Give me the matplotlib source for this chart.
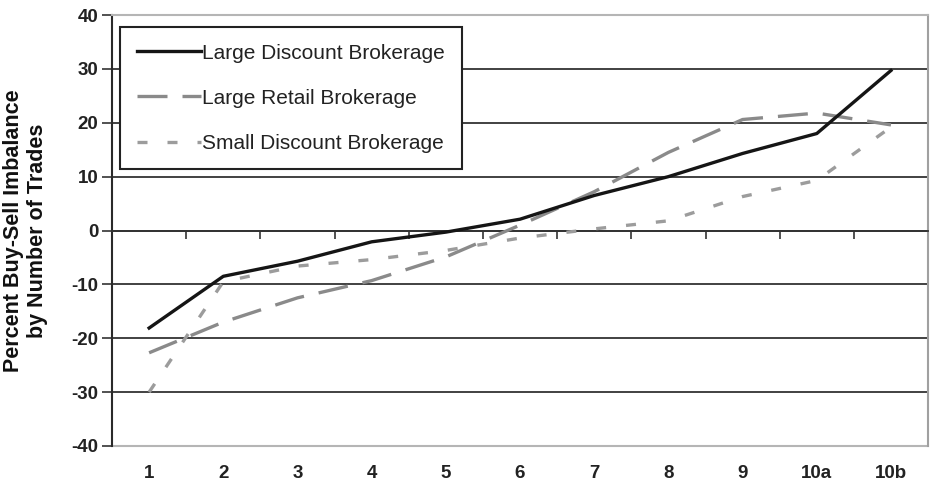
import numpy as np
import matplotlib
matplotlib.use("Agg")
from matplotlib import pyplot as plt

categories = ["1", "2", "3", "4", "5", "6", "7", "8", "9", "10a", "10b"]
large_discount = [-18.1, -8.5, -5.7, -2.1, -0.3, 2.1, 6.5, 10.0, 14.3, 18.0, 29.7]
large_retail = [-22.7, -17.0, -12.5, -9.3, -4.9, 1.0, 7.2, 14.5, 20.6, 21.8, 19.6]
small_discount = [-30.0, -9.5, -6.6, -5.4, -3.7, -1.4, 0.3, 1.8, 6.3, 9.3, 19.2]
y_ticks = [-40, -30, -20, -10, 0, 10, 20, 30, 40]

plt.rcParams['font.family'] = ['Liberation Sans', 'DejaVu Sans']

fig = plt.figure(figsize=(9.47, 4.92), dpi=100)
ax = fig.add_axes([0.1183, 0.0935, 0.8617, 0.876])

x = np.arange(1, len(categories) + 1)

# gridlines (dark, like the original)
for v in y_ticks[1:-1]:
    ax.axhline(v, color='#333333', lw=1.3, zorder=1)

ax.plot(x, large_discount, color='#151515', lw=2.4, label='Large Discount Brokerage',
        zorder=4)
ax.plot(x, large_retail, color='#8a8a8a', lw=2.4, dashes=(9.0, 4.5),
        label='Large Retail Brokerage', zorder=3)
ax.plot(x, small_discount, color='#9c9c9c', lw=2.4, dashes=(3.0, 6.0),
        label='Small Discount Brokerage', zorder=3)

ax.set_xlim(0.5, len(categories) + 0.5)
ax.set_ylim(-40, 40)

# category axis crossing at zero, tick marks at category boundaries
ax.spines['bottom'].set_position(('data', 0))
ax.spines['bottom'].set_color('#333333')
ax.spines['bottom'].set_linewidth(1.3)
ax.set_xticks(np.arange(0.5, len(categories) + 1.0, 1.0))
ax.set_xticklabels([])
ax.tick_params(axis='x', direction='out', length=6, width=1.2, color='#333333')

sec = ax.secondary_xaxis(0)
sec.set_xticks(x)
sec.set_xticklabels(categories, fontsize=13.5, fontweight='bold', color='#222222')
sec.tick_params(length=0, pad=14)
sec.spines['bottom'].set_color('#b5b5b5')
sec.spines['bottom'].set_linewidth(1.5)

ax.spines['top'].set_color('#b5b5b5')
ax.spines['top'].set_linewidth(1.5)
ax.spines['right'].set_color('#a0a0a0')
ax.spines['right'].set_linewidth(1.5)
ax.spines['left'].set_color('#2a2a2a')
ax.spines['left'].set_linewidth(1.5)

ax.set_yticks(y_ticks)
ax.set_yticklabels([str(v) for v in y_ticks], fontsize=13.5, fontweight='bold', color='#222222')
ax.tick_params(axis='y', direction='out', length=7, width=1.2, color='#333333', pad=3)

ax.set_ylabel('Percent Buy-Sell Imbalance\nby Number of Trades', fontsize=15.5,
              fontweight='bold', color='#111111', linespacing=1.2)
ax.yaxis.set_label_coords(-0.078, 0.5)

leg = ax.legend(loc='upper left', bbox_to_anchor=(0.0098, 0.972), borderaxespad=0,
                fontsize=15, frameon=True, fancybox=False, edgecolor='#222222',
                framealpha=1, handlelength=3.1, handletextpad=0.05,
                labelspacing=1.25, borderpad=0.8)
leg.get_frame().set_linewidth(1.5)
for t in leg.get_texts():
    t.set_color('#222222')

fig.savefig('out.png', dpi=100)
